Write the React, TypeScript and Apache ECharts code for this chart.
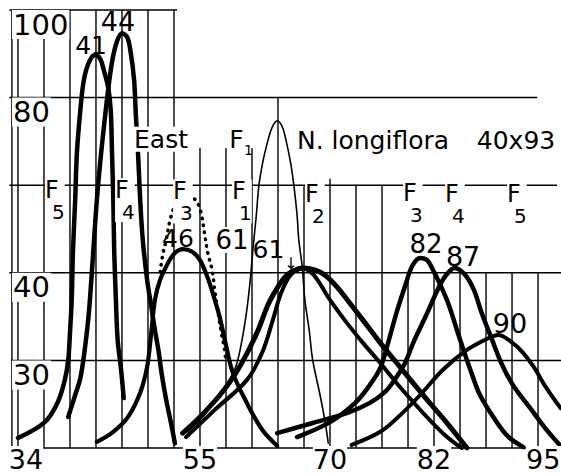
import React, { useEffect, useRef } from 'react';
import * as echarts from 'echarts';

// ---- axis ticks ----
const xTickValues = [34, 55, 70, 82, 95];
const yTickValues = [0, 20, 40, 60, 80, 100];
const yTickLabels = ['', '30', '40', '', '80', '100'];

// ---- curves: [corolla length (mm), frequency] ----
const curve41 = [[34.0,2.3],[37.1,5.9],[38.6,10.5],[39.4,15.5],[39.8,20.1],[40.0,26.3],[40.2,33.8],[40.35,45.2],[40.6,56.6],[40.8,67.4],[41.2,77.2],[41.6,84.0],[42.2,88.1],[42.9,89.7],[43.5,88.8],[43.9,86.3],[44.4,82.4],[44.7,77.2],[44.85,67.4],[45.0,56.6],[45.1,45.2],[45.3,33.8],[45.5,24.7],[45.9,17.8],[46.2,11.4]];
const curve44 = [[39.8,7.1],[40.6,12.1],[41.2,16.0],[41.7,22.4],[42.1,29.2],[42.3,33.8],[42.7,45.2],[43.1,56.6],[43.6,67.4],[44.3,80.1],[44.85,88.1],[45.4,92.7],[46.0,94.7],[46.6,93.8],[47.0,90.4],[47.4,84.0],[47.6,76.0],[47.85,67.4],[48.1,56.6],[48.4,47.5],[48.9,38.4],[49.35,32.7],[49.8,26.9],[50.2,22.4],[50.6,16.7],[51.1,11.0],[51.7,5.3],[52.1,1.1]];
const curve46 = [[43.1,1.4],[45.0,3.7],[46.7,7.1],[48.1,12.6],[48.9,18.5],[49.35,25.8],[49.8,33.8],[50.4,38.4],[51.3,42.2],[52.1,44.5],[53.0,45.4],[54.1,44.8],[55.0,42.9],[55.9,38.8],[56.6,34.5],[57.3,29.7],[58.0,23.5],[58.8,17.1],[60.4,10.3],[62.2,4.1],[63.9,0.5]];
const curveF3Dotted = [[50.4,40.2],[50.7,44.1],[51.1,47.5],[51.5,51.6],[52.0,54.8],[52.7,56.6],[53.6,57.3],[54.5,56.6],[55.1,53.9],[55.5,49.3],[55.9,44.5],[56.4,40.6],[56.7,36.1],[57.1,30.8],[57.4,26.9],[57.8,22.8],[58.0,19.6]];
const curveF1 = [[53.5,3.7],[55.0,6.4],[56.7,10.5],[58.2,14.8],[59.2,19.0],[59.85,24.7],[60.4,31.5],[60.8,38.4],[61.1,45.2],[61.5,53.2],[61.8,60.0],[62.3,65.8],[62.85,70.3],[63.3,73.1],[63.9,74.7],[64.5,73.3],[65.0,69.6],[65.5,64.6],[65.85,59.6],[66.2,53.2],[66.4,47.5],[66.8,41.3],[67.1,33.8],[67.6,26.9],[68.0,20.1],[68.85,12.1],[69.4,6.4],[69.8,1.1]];
const curveF2 = [[53.0,3.4],[55.0,7.1],[57.3,12.1],[59.0,16.7],[60.5,21.9],[61.7,26.9],[62.85,32.7],[63.9,36.5],[64.8,39.0],[65.7,40.4],[66.9,41.1],[68.3,40.6],[69.4,39.5],[70.8,36.8],[72.0,33.8],[73.8,29.2],[75.8,24.0],[77.7,19.4],[79.6,14.8],[81.5,10.3],[83.5,5.7],[85.8,0]];
const curveF2b = [[53.4,2.5],[56.7,8.7],[60.4,15.5],[62.2,21.9],[63.4,29.2],[64.4,35.6],[65.5,39.6],[66.9,40.9],[68.0,39.8],[69.0,37.0],[70.0,33.8],[71.85,28.8],[73.8,24.0],[75.8,19.4],[77.7,14.8],[79.6,10.5],[81.5,6.4],[83.4,2.7],[85.2,0]];
const curve82 = [[66.2,2.5],[70.0,5.9],[72.9,10.3],[74.6,14.4],[75.8,18.3],[76.7,24.0],[77.6,30.4],[78.7,37.2],[79.5,41.6],[80.4,43.4],[81.2,42.9],[81.9,40.6],[82.9,36.5],[83.7,32.7],[84.65,26.9],[85.6,21.2],[86.4,16.7],[87.3,12.1],[88.9,6.9],[90.5,2.7],[92.3,0.2]];
const curve87 = [[63.9,3.4],[68.0,5.7],[72.0,8.0],[74.6,10.3],[76.35,12.8],[77.6,16.0],[78.7,19.6],[79.6,24.0],[81.0,29.9],[82.5,36.5],[83.4,39.5],[84.4,41.1],[85.6,39.5],[86.6,36.1],[87.5,30.8],[88.7,24.7],[89.85,19.0],[91.1,14.4],[93.1,9.1],[94.8,4.6],[96.5,0.7]];
const curve90 = [[72.5,0.7],[75.8,3.7],[78.1,7.5],[80.4,12.1],[83.0,17.8],[85.8,22.4],[88.3,25.1],[89.4,25.8],[90.8,24.4],[92.2,21.9],[93.5,18.5],[94.9,13.9],[96.6,9.1]];

// ---- hand-ruled grid: verticals [x, yTop, yBottom], horizontals [y, xStart, xEnd] ----
const gridVerticals = [[33.3,100,0],[34,100,0],[37,100,0],[40,100,0],[43,100,0],[46,100,0],[49,100,0],[52,100,0],[55,68.5,0],[58,68.5,0],[61,68.5,0],[64,80,0],[67,60,0],[70,61.5,0],[73,60,0],[76,60,0],[79,40,0],[82,40,0],[85,40,0],[88,40,0],[91,40,0],[94,40,0]];
const gridHorizontals = [[100,33.0,52.35],[80,33.0,93.9],[60,33.0,96.2],[40,33.0,96.65],[20,33.2,96.65],[0,33.3,96.65]];

// ---- annotations: [text, x, y] ----
const peakLabelsBig = [['44',45.54,97.3],['87',85.35,43.8],['90',90.77,28.5]];
const peakLabel82 = [['82',81.08,46.5]];
const peakLabels = [['41',42.43,92.0],['46',52.46,47.9],['61',62.9,45.4]];
const arrowLabels = [['↓',65.5,42.2]];
// generation labels: [generation digit, left x, centre y]
const genLabels = [['5',37.12,56.6],['4',45.2,56.6],['3',51.89,56.3],['1',58.7,56.3],['2',67.12,55.6],['3',78.42,55.9],['4',83.27,55.6],['5',90.42,55.6]];
const meanF1Label = [['61',58.7,47.5]];
const titleTexts = [['East',50.5,70.5],['F',59.2,70.5],['N. longiflora',74.96,70.3],['40x93',91.46,70.1]];
const titleSub = [['1',60.6,68.0]];

const FONT = "'DejaVu Sans', 'Liberation Sans', sans-serif";

function textSeries(items: any[], fontSize: number, bg: boolean) {
  return {
    type: 'scatter',
    z: 6,
    silent: true,
    symbolSize: 0.1,
    itemStyle: { color: '#fff', opacity: 1 },
    data: items.map((d) => ({ name: d[0], value: [d[1], d[2]] })),
    label: {
      show: true,
      position: 'inside',
      formatter: '{b}',
      color: '#000',
      opacity: 1,
      textBorderWidth: 0,
      fontSize,
      fontFamily: FONT,
      backgroundColor: bg ? '#fff' : 'transparent',
      padding: bg ? [0, 1, 0, 1] : 0,
    },
  };
}

function genSeries(items: any[]) {
  return {
    type: 'scatter',
    z: 6,
    silent: true,
    symbolSize: 0.1,
    itemStyle: { color: '#fff', opacity: 1 },
    data: items.map((d) => ({ name: d[0], value: [d[1], d[2]] })),
    label: {
      show: true,
      position: 'inside',
      align: 'left',
      verticalAlign: 'middle',
      formatter: (p: any) => '{f|F}\n{d|' + p.name + '}',
      color: '#000',
      opacity: 1,
      textBorderWidth: 0,
      backgroundColor: '#fff',
      rich: {
        f: { fontSize: 24, lineHeight: 24, fontFamily: FONT, color: '#000' },
        d: { fontSize: 20, lineHeight: 20, fontFamily: FONT, color: '#000', padding: [0, 0, 0, 7] },
      },
    },
  };
}

function curveSeries(data: number[][], width: number, type: any = 'solid') {
  return {
    type: 'line',
    z: 3,
    data,
    showSymbol: false,
    symbol: 'none',
    smooth: 0.35,
    silent: true,
    lineStyle: { color: '#000', width, type, cap: 'round', join: 'round' },
  };
}

export default function App() {
  const ref = useRef<HTMLDivElement>(null);
  useEffect(() => {
    if (!ref.current) return;
    const chart = echarts.init(ref.current, undefined, { renderer: 'svg' });
    const last = xTickValues[xTickValues.length - 1];
    const option: any = {
      animation: false,
      backgroundColor: '#fff',
      grid: { left: 8, right: 0, top: 10, bottom: 28, containLabel: false, outerBoundsMode: 'none' },
      xAxis: {
        type: 'value',
        min: 32.85,
        max: 96.65,
        z: 8,
        axisLine: { show: false },
        axisTick: { show: false },
        splitLine: { show: false },
        axisLabel: {
          customValues: xTickValues,
          margin: -2,
          color: '#000',
          fontSize: 27,
          fontFamily: FONT,
          backgroundColor: '#fff',
          formatter: (v: number) =>
            v === xTickValues[0] ? '{first|' + v + '}' : v === last ? '{last|' + v + '}' : String(v),
          rich: {
            first: { fontSize: 27, fontFamily: FONT, color: '#000', padding: [0, 0, 0, 16] },
            last: { fontSize: 27, fontFamily: FONT, color: '#000', padding: [0, 7, 0, 0] },
          },
        },
      },
      yAxis: {
        type: 'value',
        min: 0,
        max: 100,
        interval: 20,
        z: 8,
        axisLine: { show: false },
        axisTick: { show: false },
        splitLine: { show: false },
        axisLabel: {
          inside: true,
          margin: 4,
          verticalAlign: 'top',
          color: '#000',
          fontSize: 29,
          fontFamily: FONT,
          backgroundColor: '#fff',
          padding: [0, 1, 0, 1],
          showMinLabel: true,
          showMaxLabel: true,
          formatter: (v: number) => {
            const i = yTickValues.indexOf(v);
            return i >= 0 ? yTickLabels[i] : '';
          },
        },
      },
      series: [
        {
          type: 'custom',
          z: 1,
          silent: true,
          data: gridVerticals,
          renderItem: (params: any, api: any) => {
            const a = api.coord([api.value(0), api.value(1)]);
            const b = api.coord([api.value(0), api.value(2)]);
            return { type: 'line', shape: { x1: a[0], y1: a[1], x2: b[0], y2: b[1] }, style: { stroke: '#000', lineWidth: 1.4 } };
          },
        },
        {
          type: 'custom',
          z: 1,
          silent: true,
          data: gridHorizontals,
          renderItem: (params: any, api: any) => {
            const a = api.coord([api.value(1), api.value(0)]);
            const b = api.coord([api.value(2), api.value(0)]);
            return { type: 'line', shape: { x1: a[0], y1: a[1], x2: b[0], y2: b[1] }, style: { stroke: '#000', lineWidth: 1.5 } };
          },
        },
        curveSeries(curve41, 4.5),
        curveSeries(curve44, 4.5),
        curveSeries(curve46, 4.2),
        curveSeries(curveF3Dotted, 3.5, [0.5, 6.5]),
        curveSeries(curveF1, 1.6),
        curveSeries(curveF2, 5),
        curveSeries(curveF2b, 4),
        curveSeries(curve82, 4.5),
        curveSeries(curve87, 4.5),
        curveSeries(curve90, 4),
        textSeries(peakLabelsBig, 27, false),
        textSeries(peakLabel82, 26, false),
        textSeries(peakLabels, 25, false),
        textSeries(arrowLabels, 16, false),
        genSeries(genLabels),
        textSeries(meanF1Label, 26, true),
        textSeries(titleTexts, 25, true),
        textSeries(titleSub, 14, false),
      ],
    };
    chart.setOption(option);
    return () => chart.dispose();
  }, []);
  return (
    <div
      ref={ref}
      style={{ position: 'fixed', left: 0, top: 0, width: 561, height: 476, background: '#fff' }}
    />
  );
}
